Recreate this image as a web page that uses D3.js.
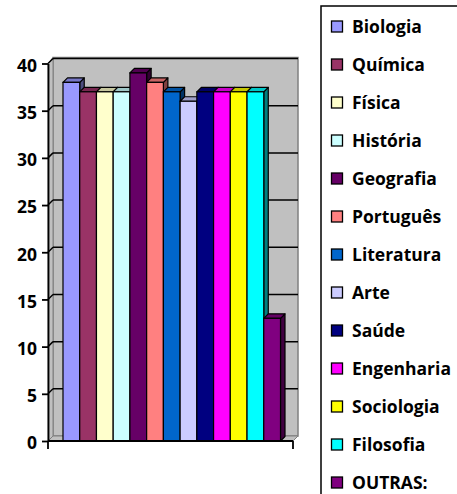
<!DOCTYPE html>
<html>
<head>
<meta charset="utf-8">
<script src="https://cdn.jsdelivr.net/npm/d3@7"></script>
<style>
  html, body { margin: 0; padding: 0; background: #fff; }
  svg { display: block; }
  text { font-family: "Open Sans", Carlito, Calibri, sans-serif; font-weight: 700; fill: #000; }
</style>
</head>
<body>
<svg id="chart" width="457" height="494"></svg>
<script>
const series = ["Biologia", "Química", "Física", "História", "Geografia", "Português", "Literatura", "Arte", "Saúde", "Engenharia", "Sociologia", "Filosofia", "OUTRAS:"];
const values = [38, 37, 37, 37, 39, 38, 37, 36, 37, 37, 37, 37, 13];
const colors = ["#9999FF", "#993366", "#FFFFCC", "#CCFFFF", "#660066", "#FF8080", "#0066CC", "#CCCCFF", "#000080", "#FF00FF", "#FFFF00", "#00FFFF", "#800080"];
const yTicks = [0, 5, 10, 15, 20, 25, 30, 35, 40];

const svg = d3.select("#chart");

const axisX = 48, floorRight = 293;
const wallDx = 5, wallDy = -5;
const barD = 4.5;

const y = d3.scaleLinear().domain([0, 40]).range([441, 63.5]);
const x = d3.scaleBand().domain(series).range([63, 280.5]).padding(0);

function shade(c, k) {
  const r = d3.rgb(c);
  return d3.rgb(r.r * k, r.g * k, r.b * k).toString();
}

// Walls
const wallFill = "#C0C0C0", wallStroke = "#808080";
const g = svg.append("g");
g.append("rect")
  .attr("x", axisX + wallDx).attr("y", y(40) + wallDy - 1)
  .attr("width", floorRight - axisX).attr("height", y(0) - y(40) + 1)
  .attr("fill", wallFill).attr("stroke", wallStroke).attr("stroke-width", 1.5);
g.append("polygon")
  .attr("points", [[axisX, y(40)], [axisX + wallDx, y(40) + wallDy - 1], [axisX + wallDx, y(0) + wallDy], [axisX, y(0)]].map(p => p.join(",")).join(" "))
  .attr("fill", wallFill).attr("stroke", wallStroke).attr("stroke-width", 1);
g.append("polygon")
  .attr("points", [[axisX, y(0)], [axisX + wallDx, y(0) + wallDy], [floorRight + wallDx, y(0) + wallDy], [floorRight, y(0)]].map(p => p.join(",")).join(" "))
  .attr("fill", wallFill).attr("stroke", wallStroke).attr("stroke-width", 1);

yTicks.filter(v => v > 0).forEach(v => {
  g.append("line")
    .attr("x1", axisX + wallDx).attr("x2", floorRight + wallDx)
    .attr("y1", y(v) + wallDy).attr("y2", y(v) + wallDy)
    .attr("stroke", "#000").attr("stroke-width", 1.5);
  g.append("line")
    .attr("x1", axisX).attr("x2", axisX + wallDx)
    .attr("y1", y(v)).attr("y2", y(v) + wallDy)
    .attr("stroke", "#000").attr("stroke-width", 1.5);
});

// Bars (3D)
const bars = svg.append("g");
series.forEach((s, i) => {
  const x0 = x(s), x1 = x(s) + x.bandwidth();
  const yt = y(values[i]), yb = y(0);
  const c = colors[i];
  const bg = bars.append("g");
  bg.append("polygon")
    .attr("points", [[x1, yt], [x1 + barD, yt - barD], [x1 + barD, yb - barD], [x1, yb]].map(p => p.join(",")).join(" "))
    .attr("fill", shade(c, 0.5)).attr("stroke", "#000").attr("stroke-width", 1.2).attr("stroke-linejoin", "round");
  bg.append("polygon")
    .attr("points", [[x0, yt], [x0 + barD, yt - barD], [x1 + barD, yt - barD], [x1, yt]].map(p => p.join(",")).join(" "))
    .attr("fill", shade(c, 0.78)).attr("stroke", "#000").attr("stroke-width", 1.2).attr("stroke-linejoin", "round");
  bg.append("rect")
    .attr("x", x0).attr("y", yt).attr("width", x.bandwidth()).attr("height", yb - yt)
    .attr("fill", c).attr("stroke", "#000").attr("stroke-width", 1.2);
});

// Y axis
const yAxis = d3.axisLeft(y).tickValues(yTicks).tickSize(6).tickSizeOuter(0).tickPadding(5);
const ya = svg.append("g").attr("transform", `translate(${axisX},0)`).call(yAxis);
ya.select(".domain").attr("stroke", "#000").attr("stroke-width", 1.8);
ya.selectAll(".tick line").attr("stroke", "#000").attr("stroke-width", 1.8);
ya.selectAll(".tick text").attr("font-size", 17.5).attr("dy", "0.45em")
  .style("font-family", "'Open Sans', Carlito, Calibri, sans-serif").style("font-weight", "700");

// X axis line with end ticks
svg.append("line").attr("x1", axisX).attr("x2", floorRight).attr("y1", y(0)).attr("y2", y(0))
  .attr("stroke", "#000").attr("stroke-width", 2);
[axisX, floorRight].forEach(px => {
  svg.append("line").attr("x1", px).attr("x2", px).attr("y1", y(0)).attr("y2", y(0) + 8)
    .attr("stroke", "#000").attr("stroke-width", 1.8);
});

// Legend
const leg = svg.append("g");
leg.append("rect").attr("x", 321).attr("y", 6).attr("width", 160).attr("height", 520)
  .attr("fill", "#fff").attr("stroke", "#000").attr("stroke-width", 1.5);
const ly = d3.scalePoint().domain(series).range([27, 483]);
series.forEach((s, i) => {
  leg.append("rect").attr("x", 331.5).attr("y", ly(s) - 6).attr("width", 11).attr("height", 11)
    .attr("fill", colors[i]).attr("stroke", "#000").attr("stroke-width", 1.3);
  leg.append("text").attr("x", 352).attr("y", ly(s)).attr("dy", "0.36em")
    .attr("font-size", 17.5).text(s);
});
</script>
</body>
</html>
